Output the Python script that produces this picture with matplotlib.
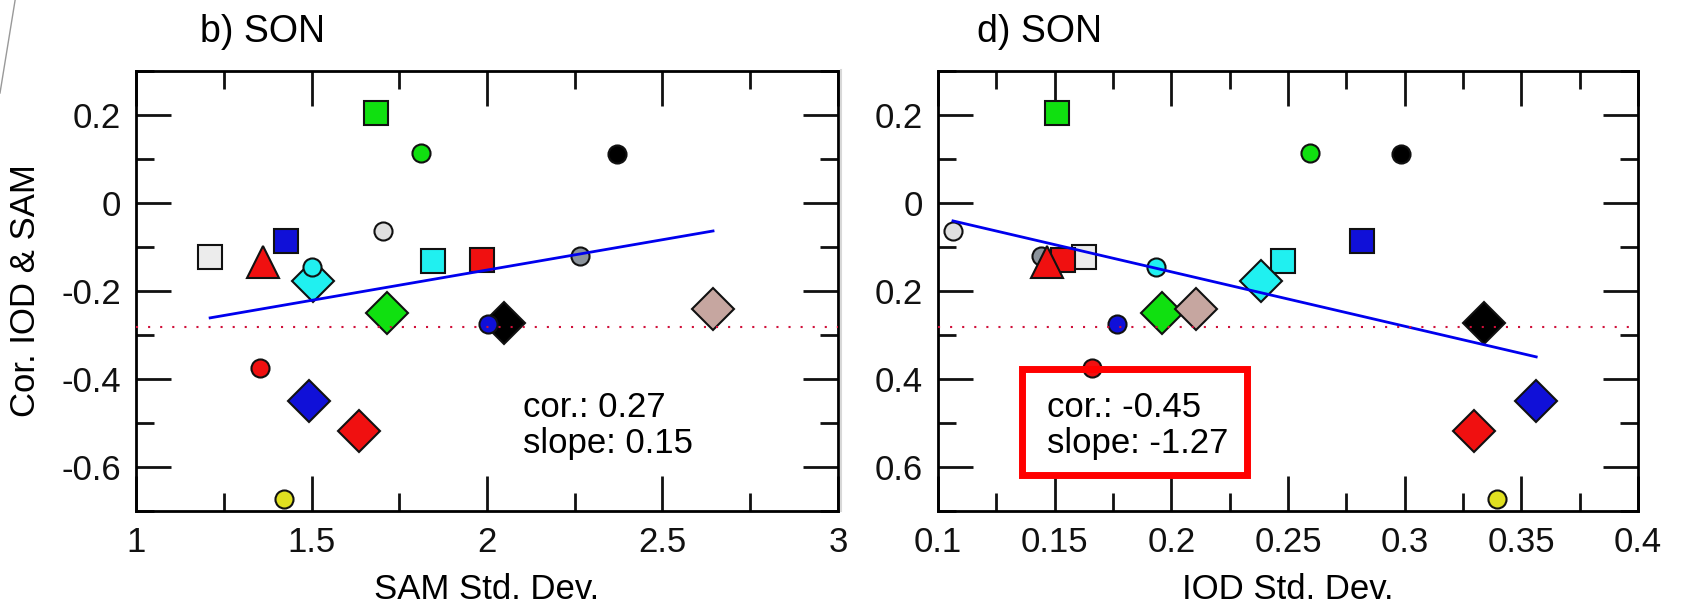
import matplotlib.pyplot as plt
from matplotlib.lines import Line2D
from matplotlib.patches import Rectangle
from matplotlib.ticker import MultipleLocator, FuncFormatter, FixedLocator, FixedFormatter
import numpy as np

plt.rcParams['font.family'] = ['Liberation Sans', 'DejaVu Sans']
plt.rcParams['axes.unicode_minus'] = False

# one entry per model: marker, fill colour, correlation, SAM std, IOD std
markers = ['s', 's', 's', 's', 's',
           'D', 'D', 'D', 'D', 'D', 'D',
           'o', 'o', 'o', 'o', 'o', 'o', 'o', 'o',
           '^']
colors = ['#ececec', '#f01010', '#20f0f0', '#1010d8', '#10e010',
          '#10e010', '#c6a6a0', '#20f0f0', '#000000', '#1010d8', '#f01010',
          '#e0e0e0', '#8c949c', '#10e010', '#000000', '#20f0f0', '#1010d8', '#f01010', '#e0e020',
          '#f01010']
cor_iod_sam = [-0.123, -0.13, -0.132, -0.087, 0.205,
               -0.251, -0.242, -0.178, -0.272, -0.449, -0.518,
               -0.064, -0.12, 0.114, 0.112, -0.145, -0.274, -0.376, -0.673,
               -0.134]
sam_sd = [1.211, 1.985, 1.846, 1.427, 1.684,
          1.714, 2.644, 1.505, 2.049, 1.493, 1.636,
          1.703, 2.265, 1.812, 2.370, 1.501, 2.003, 1.353, 1.422,
          1.362]
iod_sd = [0.1624, 0.1534, 0.2479, 0.2816, 0.1509,
          0.1962, 0.2107, 0.2385, 0.3342, 0.3564, 0.3299,
          0.1064, 0.144, 0.2594, 0.2983, 0.1936, 0.1769, 0.1662, 0.3397,
          0.1466]

sig_level = -0.281
left_stats = ['cor.: 0.27', 'slope: 0.15']
right_stats = ['cor.: -0.45', 'slope: -1.27']
right_ytick_labels = ['0.2', '0', '0.2', '0.4', '0.6']
marker_size = {'s': 17, 'D': 21, 'o': 13, '^': 23}

fig = plt.figure(figsize=(16.82, 6.08), dpi=100)
ax1 = fig.add_axes([0.0809, 0.1595, 0.4173, 0.7237])
ax2 = fig.add_axes([0.5577, 0.1595, 0.4161, 0.7237])


def style_axes(ax):
    for sp in ax.spines.values():
        sp.set_linewidth(2)
    ax.tick_params(which='both', direction='in', top=True, right=True,
                   width=2, labelsize=25, pad=11, colors='#111111')
    ax.tick_params(which='major', length=25)
    ax.tick_params(which='minor', length=13)
    ax.set_ylim(-0.7, 0.3)
    ax.yaxis.set_major_locator(MultipleLocator(0.2))
    ax.yaxis.set_minor_locator(MultipleLocator(0.1))


def draw_panel(ax, xs):
    for m, c, x, y in zip(markers, colors, xs, cor_iod_sam):
        ax.plot(x, y, marker=m, ms=marker_size[m], mfc=c, mec='#111111',
                mew=1.5, ls='none', zorder=3)
    ax.axhline(sig_level, color='#d0103a', lw=1.5, ls=(0, (1, 4.8)), zorder=5)
    slope, icpt = np.polyfit(xs, cor_iod_sam, 1)
    xl = np.array([min(xs), max(xs)])
    ax.plot(xl, slope * xl + icpt, color='#0000ee', lw=2, zorder=4)


style_axes(ax1)
ax1.set_xlim(1, 3)
ax1.xaxis.set_major_locator(MultipleLocator(0.5))
ax1.xaxis.set_minor_locator(MultipleLocator(0.25))
fmt = FuncFormatter(lambda v, p: '%g' % round(v, 3))
ax1.xaxis.set_major_formatter(fmt)
ax1.yaxis.set_major_formatter(fmt)
draw_panel(ax1, sam_sd)
ax1.set_xlabel('SAM Std. Dev.', fontsize=25, labelpad=10)
ax1.set_ylabel('Cor. IOD & SAM', fontsize=25, labelpad=14)
ax1.text(0.091, 1.066, 'b) SON', transform=ax1.transAxes, fontsize=27,
         va='baseline', ha='left')
ax1.text(0.551, 0.2136, left_stats[0], transform=ax1.transAxes, fontsize=25, va='baseline')
ax1.text(0.551, 0.1318, left_stats[1], transform=ax1.transAxes, fontsize=25, va='baseline')

style_axes(ax2)
ax2.set_xlim(0.1, 0.4)
ax2.xaxis.set_major_locator(MultipleLocator(0.05))
ax2.xaxis.set_minor_locator(MultipleLocator(0.025))
ax2.xaxis.set_major_formatter(fmt)
ax2.yaxis.set_major_locator(FixedLocator([0.2, 0.0, -0.2, -0.4, -0.6]))
ax2.yaxis.set_major_formatter(FixedFormatter(right_ytick_labels))
draw_panel(ax2, iod_sd)
ax2.set_xlabel('IOD Std. Dev.', fontsize=25, labelpad=10)
ax2.text(0.056, 1.066, 'd) SON', transform=ax2.transAxes, fontsize=27,
         va='baseline', ha='left')
ax2.text(0.1557, 0.2136, right_stats[0], transform=ax2.transAxes, fontsize=25, va='baseline')
ax2.text(0.1557, 0.1318, right_stats[1], transform=ax2.transAxes, fontsize=25, va='baseline')
ax2.add_patch(Rectangle((0.1193, 0.083), 0.3228, 0.2409, transform=ax2.transAxes,
                        fill=False, ec='#ff0000', lw=5, zorder=6, clip_on=False))

# faint page edges from the source scan
fig.add_artist(Line2D([0.0, 0.009], [0.847, 1.0], color='#999999', lw=1))
fig.add_artist(Line2D([0.5, 0.5], [0.16, 0.885], color='#d8d8d8', lw=1.5))

fig.savefig('out.png', dpi=100)
